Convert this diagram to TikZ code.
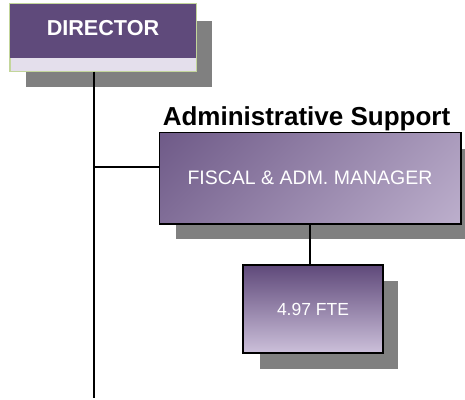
\documentclass[tikz,border=0pt]{standalone}
\usepackage{fontspec}
\setmainfont{Liberation Sans}
\definecolor{dirpurple}{HTML}{5F4A7B}
\definecolor{dirband}{HTML}{E4DFEC}
\definecolor{dirline}{HTML}{C3D69B}
\definecolor{shadowgray}{HTML}{808080}
\definecolor{gradtop}{HTML}{5F497A}
\definecolor{gradbot}{HTML}{CCC0DA}
\begin{document}
\begin{tikzpicture}[x=1pt,y=-1pt,
  shadowbox/.style={fill=shadowgray},
  connector/.style={line width=1.5pt, black},
  unitbox/.style={draw=black, line width=1.5pt, inner sep=0pt, text=white},
  dirbox/.style={draw=dirline, line width=1pt, fill=dirband, inner sep=0pt,
    minimum width=186pt, minimum height=67pt}]
\useasboundingbox (0,0) rectangle (465,399);
\clip (0,0) rectangle (465,399);

% Director box with drop shadow and light lower band
\fill[shadowbox] (26,21) rectangle (212,87);
\node[dirbox] (dir) at (103,37.5) {};
\fill[dirpurple] (dir.north west) rectangle ([yshift=14pt]dir.south east);
\draw[dirline, line width=1pt] (dir.north west) rectangle (dir.south east);
\node[text=white, font=\fontsize{21.6}{24}\selectfont\bfseries] (dirtext) at (103,28) {DIRECTOR};

% Fiscal & administrative manager: diagonal gradient from the top left corner
\fill[shadowbox] (176,149) rectangle (476,239);
\node[unitbox, minimum width=300pt, minimum height=90pt] (mgr) at (310,178) {};
\begin{scope}
  \clip (mgr.north west) rectangle (mgr.south east);
  \shade[top color=gradtop, bottom color=gradbot, shading angle=45]
    ([shift={(-195,-195)}]mgr.center) rectangle ([shift={(195,195)}]mgr.center);
\end{scope}
\draw[black, line width=1.5pt] (mgr.north west) rectangle (mgr.south east);
\node[text=white, font=\fontsize{19.5}{22}\selectfont] (mgrtext) at (mgr.center) {FISCAL \& ADM. MANAGER};
\node[anchor=base, font=\fontsize{26}{28}\selectfont\bfseries] (title) at (306.5,125) {Administrative Support};

% Staff box
\fill[shadowbox] (260,281) rectangle (398,369);
\node[unitbox, minimum width=140pt, minimum height=88pt,
  top color=gradtop, bottom color=gradbot,
  font=\fontsize{17.5}{20}\selectfont] (fte) at (313,309) {4.97 FTE};

% Connectors
\coordinate (trunktop) at ([xshift=-9pt]dir.south);
\coordinate (trunkbot) at (94,398);
\coordinate (branch) at (94,167);
\draw[connector] (trunktop) -- (trunkbot);
\draw[connector] (branch) -- (branch -| mgr.west);
\draw[connector] (mgr.south) -- (mgr.south |- fte.north);
\end{tikzpicture}
\end{document}
